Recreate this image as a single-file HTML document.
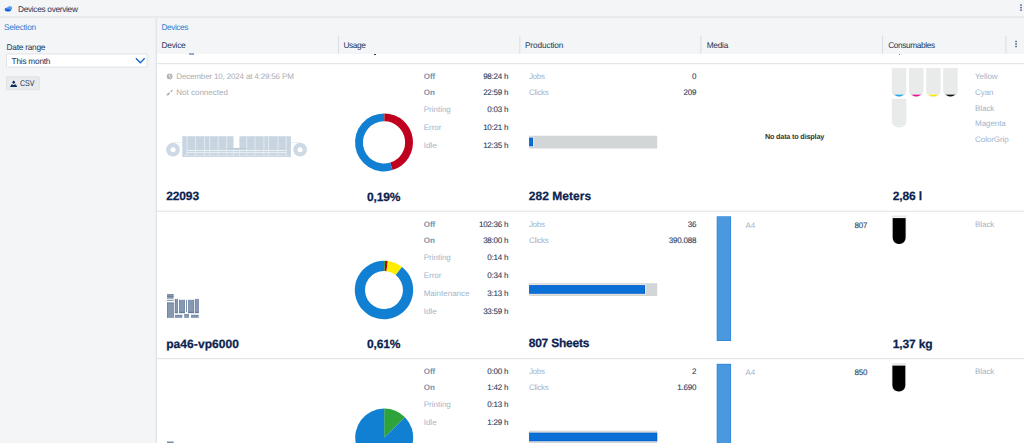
<!DOCTYPE html>
<html>
<head>
<meta charset="utf-8">
<title>Devices overview</title>
<style>
*{box-sizing:border-box;margin:0;padding:0}
html,body{width:1024px;height:443px;overflow:hidden;background:#f4f5f7}
body{position:relative;text-rendering:geometricPrecision;font-family:"Liberation Sans",sans-serif;font-size:8.3px;letter-spacing:-0.24px;color:#1c3557}
.a{position:absolute}
.t{position:absolute;white-space:nowrap;line-height:10px;height:10px}
.r{text-align:right}
.s{font-size:8px;line-height:9px;height:9px;letter-spacing:0}
.uv,.val{letter-spacing:-0.22px}
.nd{font-size:7.3px;line-height:9px;height:9px;letter-spacing:-0.2px;color:#333}
.b{font-weight:bold}
.blue{color:#2b7dd1}
.lbl{color:#a2b4cb}
.lblb{color:#7790aa;font-weight:bold}
.val{color:#1f3f63;-webkit-text-stroke:0.1px #1f3f63}
.big{letter-spacing:-0.12px;font-size:12px;font-weight:bold;color:#0b2350;line-height:14px;height:14px;-webkit-text-stroke:0.25px #0b2350}
#topbar{left:0;top:0;width:1024px;height:18px;background:#f4f5f7;border-bottom:2px solid #e8eaec}
#side{left:0;top:18px;width:156px;height:426px;background:#f4f5f7}
#sideb{left:156px;top:18px;width:1px;height:425px;background:#e3e5e8;box-shadow:-1px 0 0 #eceef0}
#main{left:157px;top:18px;width:867px;height:426px;background:#f4f5f7}
#white{left:157px;top:54px;width:867px;height:389px;background:#fff}
.sep{position:absolute;width:1px;top:36px;height:18px;background:#dfe1e5}
.row{position:absolute;left:157px;width:867px;height:148px;border-top:1px solid #e9ebec}
.rb{left:157px;width:867px;height:1px;background:#e9ebec}
.gr{color:#a9acb0}
.lbl2{color:#a9b4c2}
</style>
</head>
<body>
<div class="a" id="topbar"></div>
<div class="a" id="side"></div>
<div class="a" id="main"></div>
<div class="a" id="white"></div>
<div class="a" id="sideb"></div>

<!-- top bar -->
<svg class="a" style="left:4px;top:5px" width="9" height="8" viewBox="0 0 9 8"><ellipse cx="4.0" cy="4.4" rx="3.3" ry="2.0" fill="#2372e2"/><ellipse cx="5.7" cy="2.9" rx="2.5" ry="1.7" fill="#3c86e8"/><path d="M3.2 2.6Q5.2 1.2 7.2 2.4M2.6 3.6Q4.9 2.3 7.4 3.6" stroke="#a9c8f4" stroke-width="0.45" fill="none"/><ellipse cx="3.9" cy="5.3" rx="1.25" ry="0.6" fill="#0a3ccc"/></svg>
<div class="t" id="t_title" style="left:18px;top:4px;letter-spacing:-0.31px">Devices overview</div>
<svg class="a" style="left:1019px;top:4px" width="4" height="8" viewBox="0 0 4 8"><rect x="1.2" y="0.4" width="1.5" height="1.5" fill="#3d5c8c"/><rect x="1.2" y="2.9" width="1.5" height="1.5" fill="#3d5c8c"/><rect x="1.2" y="5.4" width="1.5" height="1.5" fill="#3d5c8c"/></svg>

<!-- sidebar -->
<div class="t blue" id="t_sel" style="left:4px;top:22px">Selection</div>
<div class="t" id="t_dr" style="left:6.5px;top:42px">Date range</div>
<svg class="a" style="left:0;top:50px" width="157" height="45" viewBox="0 50 157 45">
<rect x="6.5" y="54.0" width="140.7" height="13.1" rx="0.8" fill="#fff" stroke="#dde0e4" stroke-width="0.9"/>
<path d="M135.9 58.3L140.3 62.7L144.7 58.3" fill="none" stroke="#1767c7" stroke-width="1.35"/>
<rect x="6.5" y="76.8" width="33" height="12.9" rx="0.8" fill="#e8eaec" stroke="#dddfe2" stroke-width="0.8"/>
<path d="M13.7 80.5L15.4 82.3L13.7 84.1L12 82.3Z" fill="#0e2a5c"/>
<path d="M11.4 84.5H12.9L13.7 85.3L14.5 84.5H16L17.2 86.9H10.1Z" fill="#0e2a5c"/>
</svg>
<div class="t" id="t_tm" style="left:11.6px;top:56px">This month</div>
<div class="t" id="t_csv" style="left:20.4px;top:78px;transform:scaleX(0.85);transform-origin:0 0;letter-spacing:0">CSV</div>

<!-- main header -->
<div class="t blue" id="t_devs" style="left:161.4px;top:22px;letter-spacing:-0.42px">Devices</div>
<div class="t" id="t_h1" style="left:161.5px;top:40px">Device</div>
<div class="t" id="t_h2" style="left:343.4px;top:40px;letter-spacing:-0.4px">Usage</div>
<div class="t" id="t_h3" style="left:524.9px;top:40px;letter-spacing:-0.13px">Production</div>
<div class="t" id="t_h4" style="left:706.7px;top:40px">Media</div>
<div class="t" id="t_h5" style="left:888.2px;top:40px;letter-spacing:-0.38px">Consumables</div>
<svg class="a" style="left:1014px;top:40px" width="4" height="8" viewBox="0 0 4 8"><rect x="1.3" y="0.8" width="1.5" height="1.5" fill="#3d5c8c"/><rect x="1.3" y="3.3" width="1.5" height="1.5" fill="#3d5c8c"/><rect x="1.3" y="5.8" width="1.5" height="1.5" fill="#3d5c8c"/></svg>

<!-- remnants of previous row -->
<div class="a" style="left:189px;top:53.4px;width:5px;height:1.6px;background:#94abc9"></div>
<div class="a" style="left:373.8px;top:53.5px;width:1.8px;height:1.6px;background:#0b2350;border-radius:1px"></div>
<div class="a" style="left:898.5px;top:53.5px;width:1.8px;height:1.6px;background:#2b5ea0;border-radius:1px"></div>

<svg class="a" style="left:0;top:0" width="1024" height="443" viewBox="0 0 1024 443">
<rect x="337.90" y="35.90" width="1.00" height="17.70" fill="#dadde1"/>
<rect x="519.30" y="35.90" width="1.00" height="17.70" fill="#dadde1"/>
<rect x="700.40" y="35.90" width="1.00" height="17.70" fill="#dadde1"/>
<rect x="882.10" y="35.90" width="1.00" height="17.70" fill="#dadde1"/>
<rect x="1005.40" y="35.90" width="1.00" height="17.70" fill="#dadde1"/>
<rect x="157.00" y="63.20" width="867.00" height="1.00" fill="#dee1e4"/>
<circle cx="169.6" cy="76.45" r="2.85" fill="#b1b4b8"/><path d="M169.6 74.60V76.60L170.9 77.60" stroke="#fff" stroke-width="0.9" fill="none"/>
<g transform="translate(166 89.00)"><path d="M0.3 6.7L1.3 4.5L3.2 3.2L4.1 4.1L2.9 6.0Z" fill="#adb0b4"/><path d="M4.0 1.9L6.8 0.4L5.9 3.6Z" fill="#adb0b4"/></g>
<g transform="translate(166.00 136.10)"><circle cx="7" cy="13.6" r="6.9" fill="#cdd9e4"/><circle cx="7.1" cy="13.6" r="2.5" fill="#fff"/><circle cx="134.1" cy="13.6" r="6.9" fill="#cdd9e4"/><circle cx="134.1" cy="13.6" r="2.5" fill="#fff"/><rect x="7" y="6.4" width="9.5" height="0.6" fill="#dde5ec"/><rect x="125" y="6.4" width="9" height="0.6" fill="#dde5ec"/><path d="M16.3 0.2H67.5V12H73.4V0.2H124.9V20.9H16.3Z" fill="#c8d5e1"/><rect x="20.5" y="0.6" width="1" height="11.6" fill="#e3eaf1"/><rect x="29.1" y="0.6" width="1" height="11.6" fill="#e3eaf1"/><rect x="38.0" y="0.6" width="1" height="11.6" fill="#e3eaf1"/><rect x="43.2" y="0.6" width="1" height="11.6" fill="#e3eaf1"/><rect x="51.7" y="0.6" width="1" height="11.6" fill="#e3eaf1"/><rect x="60.3" y="0.6" width="1" height="11.6" fill="#e3eaf1"/><rect x="80.3" y="0.6" width="1" height="11.6" fill="#e3eaf1"/><rect x="88.5" y="0.6" width="1" height="11.6" fill="#e3eaf1"/><rect x="97.4" y="0.6" width="1" height="11.6" fill="#e3eaf1"/><rect x="101.9" y="0.6" width="1" height="11.6" fill="#e3eaf1"/><rect x="111.5" y="0.6" width="1" height="11.6" fill="#e3eaf1"/><rect x="119.7" y="0.6" width="1" height="11.6" fill="#e3eaf1"/><rect x="21" y="13.9" width="99.7" height="0.8" fill="#f4f7fa"/><rect x="21" y="16.2" width="99.7" height="0.8" fill="#f4f7fa"/><rect x="18" y="19.3" width="105" height="0.7" fill="#e3eaf1"/><rect x="20.6" y="12.4" width="0.8" height="7.6" fill="#e6ecf2"/><rect x="29.200000000000003" y="12.4" width="0.8" height="7.6" fill="#e6ecf2"/><rect x="38.1" y="12.4" width="0.8" height="7.6" fill="#e6ecf2"/><rect x="43.300000000000004" y="12.4" width="0.8" height="7.6" fill="#e6ecf2"/><rect x="51.800000000000004" y="12.4" width="0.8" height="7.6" fill="#e6ecf2"/><rect x="60.4" y="12.4" width="0.8" height="7.6" fill="#e6ecf2"/><rect x="67.1" y="12.4" width="0.8" height="7.6" fill="#e6ecf2"/><rect x="73.0" y="12.4" width="0.8" height="7.6" fill="#e6ecf2"/><rect x="80.39999999999999" y="12.4" width="0.8" height="7.6" fill="#e6ecf2"/><rect x="88.6" y="12.4" width="0.8" height="7.6" fill="#e6ecf2"/><rect x="97.5" y="12.4" width="0.8" height="7.6" fill="#e6ecf2"/><rect x="102.0" y="12.4" width="0.8" height="7.6" fill="#e6ecf2"/><rect x="111.6" y="12.4" width="0.8" height="7.6" fill="#e6ecf2"/><rect x="119.8" y="12.4" width="0.8" height="7.6" fill="#e6ecf2"/><rect x="61.3" y="12" width="19" height="1.2" fill="#bccbda"/></g>
<path d="M384.00 113.40A29 29 0 0 1 384.40 113.40L384.29 121.30A21.1 21.1 0 0 0 384.00 121.30Z" fill="#2da33a"/><path d="M384.40 113.40A29 29 0 0 1 392.53 170.12L390.20 162.57A21.1 21.1 0 0 0 384.29 121.30Z" fill="#c0001f"/><path d="M392.53 170.12A29 29 0 1 1 384.00 113.40L384.00 121.30A21.1 21.1 0 1 0 390.20 162.57Z" fill="#1180d2"/>
<rect x="529.10" y="135.70" width="128.10" height="12.80" fill="#d3d6d7"/><rect x="528.75" y="136.90" width="4.95" height="10.10" fill="#f4eee6"/><rect x="529.10" y="137.60" width="3.90" height="8.70" fill="#0560cc"/><rect x="530.00" y="138.50" width="2.10" height="6.90" fill="#0a70d6"/>
<path d="M891.80 68.10h14.5v22.8a5.8 5.8 0 0 1 -5.8 5.8h-2.90a5.8 5.8 0 0 1 -5.8 -5.8Z" fill="#e9eaea"/><clipPath id="tc1"><path d="M892.60 68.10h12.9v22.3a6.2 6.2 0 0 1 -6.2 6.2h-0.50a6.2 6.2 0 0 1 -6.2 -6.2Z"/></clipPath><g clip-path="url(#tc1)"><rect x="890.80" y="94.00" width="16.50" height="0.60" fill="#fff"/><rect x="890.80" y="94.60" width="16.50" height="3.10" fill="#1ea8ee"/></g>
<path d="M909.00 68.10h14.5v22.8a5.8 5.8 0 0 1 -5.8 5.8h-2.90a5.8 5.8 0 0 1 -5.8 -5.8Z" fill="#e9eaea"/><clipPath id="tc2"><path d="M909.80 68.10h12.9v22.3a6.2 6.2 0 0 1 -6.2 6.2h-0.50a6.2 6.2 0 0 1 -6.2 -6.2Z"/></clipPath><g clip-path="url(#tc2)"><rect x="908.00" y="94.00" width="16.50" height="0.60" fill="#fff"/><rect x="908.00" y="94.60" width="16.50" height="3.10" fill="#e6149a"/></g>
<path d="M926.10 68.10h14.5v22.8a5.8 5.8 0 0 1 -5.8 5.8h-2.90a5.8 5.8 0 0 1 -5.8 -5.8Z" fill="#e9eaea"/><clipPath id="tc3"><path d="M926.90 68.10h12.9v22.3a6.2 6.2 0 0 1 -6.2 6.2h-0.50a6.2 6.2 0 0 1 -6.2 -6.2Z"/></clipPath><g clip-path="url(#tc3)"><rect x="925.10" y="94.00" width="16.50" height="0.60" fill="#fff"/><rect x="925.10" y="94.60" width="16.50" height="3.10" fill="#ffe600"/></g>
<path d="M943.20 68.10h14.5v22.8a5.8 5.8 0 0 1 -5.8 5.8h-2.90a5.8 5.8 0 0 1 -5.8 -5.8Z" fill="#e9eaea"/><clipPath id="tc4"><path d="M944.00 68.10h12.9v22.3a6.2 6.2 0 0 1 -6.2 6.2h-0.50a6.2 6.2 0 0 1 -6.2 -6.2Z"/></clipPath><g clip-path="url(#tc4)"><rect x="942.20" y="94.00" width="16.50" height="0.60" fill="#fff"/><rect x="942.20" y="94.60" width="16.50" height="3.10" fill="#111"/></g>
<path d="M891.80 98.70h14.5v22.8a5.8 5.8 0 0 1 -5.8 5.8h-2.90a5.8 5.8 0 0 1 -5.8 -5.8Z" fill="#e9eaea"/><clipPath id="tc5"><path d="M892.60 98.70h12.9v22.3a6.2 6.2 0 0 1 -6.2 6.2h-0.50a6.2 6.2 0 0 1 -6.2 -6.2Z"/></clipPath><g clip-path="url(#tc5)"><rect x="890.80" y="125.80" width="16.50" height="0.60" fill="#fff"/><rect x="890.80" y="126.40" width="16.50" height="1.90" fill="#cfe7f9"/></g>
<rect x="157.00" y="210.70" width="867.00" height="1.00" fill="#dee1e4"/>
<g transform="translate(167.00 293.90)"><rect x="0" y="0.3" width="6.6" height="4.5" fill="#8798b3"/><rect x="0" y="2.0" width="6.6" height="0.8" fill="#647a9d"/><rect x="0" y="0.3" width="6.6" height="0.6" fill="#647a9d"/><rect x="0" y="5.9" width="6.6" height="0.9" fill="#647a9d"/><rect x="0" y="8.7" width="6.6" height="15.3" fill="#8798b3"/><rect x="0" y="8.7" width="6.6" height="0.8" fill="#647a9d"/><rect x="0" y="8.7" width="0.6" height="15.3" fill="#647a9d"/><rect x="6" y="8.7" width="0.6" height="15.3" fill="#647a9d"/><rect x="7.9" y="5" width="2.9" height="14.2" fill="#8798b3"/><rect x="12.2" y="5.9" width="5.6" height="13.3" fill="#8798b3"/><rect x="19.2" y="5.9" width="0.8" height="12.2" fill="#647a9d"/><rect x="21.4" y="5.9" width="5.7" height="13.3" fill="#8798b3"/><rect x="28.2" y="5" width="3.4" height="14.2" fill="#8798b3"/><rect x="7.9" y="21" width="7.4" height="3" fill="#8798b3"/><rect x="17.2" y="20.4" width="4.8" height="3.6" fill="#8798b3"/><rect x="24" y="21" width="7.6" height="3" fill="#8798b3"/><rect x="7.9" y="17.8" width="2.9" height="1.4" fill="#647a9d"/><rect x="12.2" y="17.8" width="5.6" height="1.4" fill="#647a9d"/><rect x="21.4" y="17.8" width="5.7" height="1.4" fill="#647a9d"/><rect x="28.2" y="17.8" width="3.4" height="1.4" fill="#647a9d"/><rect x="7.9" y="5" width="0.6" height="14.2" fill="#647a9d"/><rect x="10.2" y="5" width="0.6" height="14.2" fill="#647a9d"/><rect x="12.2" y="5.9" width="0.6" height="13.3" fill="#647a9d"/><rect x="17.2" y="5.9" width="0.6" height="13.3" fill="#647a9d"/><rect x="21.4" y="5.9" width="0.6" height="13.3" fill="#647a9d"/><rect x="26.5" y="5.9" width="0.6" height="13.3" fill="#647a9d"/><rect x="28.2" y="5" width="0.6" height="14.2" fill="#647a9d"/><rect x="31" y="5" width="0.6" height="14.2" fill="#647a9d"/><rect x="7.9" y="21" width="7.4" height="0.6" fill="#647a9d"/><rect x="24" y="21" width="7.6" height="0.6" fill="#647a9d"/><rect x="17.2" y="20.4" width="4.8" height="0.6" fill="#647a9d"/></g>
<path d="M384.00 260.80A29.2 29.2 0 0 1 385.13 260.82L384.73 271.01A19 19 0 0 0 384.00 271.00Z" fill="#2da33a"/><path d="M385.13 260.82A29.2 29.2 0 0 1 387.85 261.06L386.51 271.17A19 19 0 0 0 384.73 271.01Z" fill="#c0001f"/><path d="M387.85 261.06A29.2 29.2 0 0 1 402.00 267.01L395.71 275.04A19 19 0 0 0 386.51 271.17Z" fill="#ffee00"/><path d="M402.00 267.01A29.2 29.2 0 1 1 384.00 260.80L384.00 271.00A19 19 0 1 0 395.71 275.04Z" fill="#1180d2"/>
<rect x="529.10" y="283.20" width="128.10" height="12.80" fill="#d3d6d7"/><rect x="528.75" y="284.40" width="116.95" height="10.10" fill="#f4eee6"/><rect x="529.10" y="285.10" width="115.90" height="8.70" fill="#0560cc"/><rect x="530.00" y="286.00" width="114.10" height="6.90" fill="#0a70d6"/>
<rect x="716.70" y="216.30" width="14.35" height="124.70" fill="#2f84d8"/><rect x="717.40" y="217.00" width="12.95" height="123.30" fill="#4a98de"/>
<path d="M891.90 215.50h14.5v22.8a5.8 5.8 0 0 1 -5.8 5.8h-2.90a5.8 5.8 0 0 1 -5.8 -5.8Z" fill="#e9eaea"/><clipPath id="tc6"><path d="M892.70 215.50h12.9v22.3a6.2 6.2 0 0 1 -6.2 6.2h-0.50a6.2 6.2 0 0 1 -6.2 -6.2Z"/></clipPath><g clip-path="url(#tc6)"><rect x="890.90" y="217.50" width="16.50" height="0.60" fill="#fff"/><rect x="890.90" y="218.10" width="16.50" height="27.00" fill="#000"/></g>
<rect x="157.00" y="358.20" width="867.00" height="1.00" fill="#dee1e4"/>
<g transform="translate(167.00 441.40)"><rect x="0" y="0.3" width="6.6" height="4.5" fill="#8798b3"/><rect x="0" y="2.0" width="6.6" height="0.8" fill="#647a9d"/><rect x="0" y="0.3" width="6.6" height="0.6" fill="#647a9d"/><rect x="0" y="5.9" width="6.6" height="0.9" fill="#647a9d"/><rect x="0" y="8.7" width="6.6" height="15.3" fill="#8798b3"/><rect x="0" y="8.7" width="6.6" height="0.8" fill="#647a9d"/><rect x="0" y="8.7" width="0.6" height="15.3" fill="#647a9d"/><rect x="6" y="8.7" width="0.6" height="15.3" fill="#647a9d"/><rect x="7.9" y="5" width="2.9" height="14.2" fill="#8798b3"/><rect x="12.2" y="5.9" width="5.6" height="13.3" fill="#8798b3"/><rect x="19.2" y="5.9" width="0.8" height="12.2" fill="#647a9d"/><rect x="21.4" y="5.9" width="5.7" height="13.3" fill="#8798b3"/><rect x="28.2" y="5" width="3.4" height="14.2" fill="#8798b3"/><rect x="7.9" y="21" width="7.4" height="3" fill="#8798b3"/><rect x="17.2" y="20.4" width="4.8" height="3.6" fill="#8798b3"/><rect x="24" y="21" width="7.6" height="3" fill="#8798b3"/><rect x="7.9" y="17.8" width="2.9" height="1.4" fill="#647a9d"/><rect x="12.2" y="17.8" width="5.6" height="1.4" fill="#647a9d"/><rect x="21.4" y="17.8" width="5.7" height="1.4" fill="#647a9d"/><rect x="28.2" y="17.8" width="3.4" height="1.4" fill="#647a9d"/><rect x="7.9" y="5" width="0.6" height="14.2" fill="#647a9d"/><rect x="10.2" y="5" width="0.6" height="14.2" fill="#647a9d"/><rect x="12.2" y="5.9" width="0.6" height="13.3" fill="#647a9d"/><rect x="17.2" y="5.9" width="0.6" height="13.3" fill="#647a9d"/><rect x="21.4" y="5.9" width="0.6" height="13.3" fill="#647a9d"/><rect x="26.5" y="5.9" width="0.6" height="13.3" fill="#647a9d"/><rect x="28.2" y="5" width="0.6" height="14.2" fill="#647a9d"/><rect x="31" y="5" width="0.6" height="14.2" fill="#647a9d"/><rect x="7.9" y="21" width="7.4" height="0.6" fill="#647a9d"/><rect x="24" y="21" width="7.6" height="0.6" fill="#647a9d"/><rect x="17.2" y="20.4" width="4.8" height="0.6" fill="#647a9d"/></g>
<path d="M384.20 437.50L384.20 408.50A29 29 0 0 1 405.02 417.31Z" fill="#2da33a"/><path d="M384.20 437.50L405.02 417.31A29 29 0 1 1 384.20 408.50Z" fill="#1180d2"/>
<rect x="529.10" y="430.70" width="128.10" height="12.80" fill="#d3d6d7"/><rect x="528.75" y="431.90" width="129.15" height="10.10" fill="#f4eee6"/><rect x="529.10" y="432.60" width="128.10" height="8.70" fill="#0560cc"/><rect x="530.00" y="433.50" width="126.30" height="6.90" fill="#0a70d6"/>
<rect x="716.70" y="363.80" width="14.35" height="124.70" fill="#2f84d8"/><rect x="717.40" y="364.50" width="12.95" height="123.30" fill="#4a98de"/>
<path d="M891.60 363.00h14.5v22.8a5.8 5.8 0 0 1 -5.8 5.8h-2.90a5.8 5.8 0 0 1 -5.8 -5.8Z" fill="#e9eaea"/><clipPath id="tc7"><path d="M892.40 363.00h12.9v22.3a6.2 6.2 0 0 1 -6.2 6.2h-0.50a6.2 6.2 0 0 1 -6.2 -6.2Z"/></clipPath><g clip-path="url(#tc7)"><rect x="890.60" y="365.00" width="16.50" height="0.60" fill="#fff"/><rect x="890.60" y="365.60" width="16.50" height="27.00" fill="#000"/></g>
</svg>
<div class="t s gr" style="left:176.3px;top:72px;letter-spacing:-0.16px">December 10, 2024 at 4:29:56 PM</div>
<div class="t s gr" style="left:176.3px;top:88px">Not connected</div>
<div class="t big" style="left:166.2px;top:189px">22093</div>
<div class="t big" style="left:343.7px;top:190px;width:80px;text-align:center">0,19%</div>
<div class="t s lblb" style="left:423.7px;top:72px">Off</div>
<div class="t s r val uv" style="left:448.3px;width:60px;top:72px">98:24 h</div>
<div class="t s lblb" style="left:423.7px;top:88px">On</div>
<div class="t s r val uv" style="left:448.3px;width:60px;top:88px">22:59 h</div>
<div class="t s lbl" style="left:423.7px;top:105px">Printing</div>
<div class="t s r val uv" style="left:448.3px;width:60px;top:105px">0:03 h</div>
<div class="t s lbl" style="left:423.7px;top:123px">Error</div>
<div class="t s r val uv" style="left:448.3px;width:60px;top:123px">10:21 h</div>
<div class="t s lbl" style="left:423.7px;top:141px">Idle</div>
<div class="t s r val uv" style="left:448.3px;width:60px;top:141px">12:35 h</div>
<div class="t s lbl" style="left:528.9px;top:72px;letter-spacing:-0.3px">Jobs</div>
<div class="t s r val" style="left:636.2px;width:60px;top:72px">0</div>
<div class="t s lbl" style="left:528.9px;top:88px;letter-spacing:-0.28px">Clicks</div>
<div class="t s r val" style="left:636.2px;width:60px;top:88px">209</div>
<div class="t big" style="left:528.7px;top:189px;letter-spacing:0.05px">282 Meters</div>
<div class="t b nd" style="left:744.5px;width:100px;text-align:center;top:132px">No data to display</div>
<div class="t s lbl" style="left:975.1px;top:72px;letter-spacing:-0.08px">Yellow</div>
<div class="t s lbl" style="left:975.1px;top:88px;letter-spacing:-0.08px">Cyan</div>
<div class="t s lbl" style="left:975.1px;top:104px;letter-spacing:-0.08px">Black</div>
<div class="t s lbl" style="left:975.1px;top:119px;letter-spacing:-0.08px">Magenta</div>
<div class="t s lbl" style="left:975.1px;top:135px;letter-spacing:-0.08px">ColorGrip</div>
<div class="t big" style="left:892.7px;top:189px">2,86 l</div>
<div class="t big" style="left:166.2px;top:337px;letter-spacing:0.07px">pa46-vp6000</div>
<div class="t big" style="left:343.7px;top:337px;width:80px;text-align:center">0,61%</div>
<div class="t s lblb" style="left:423.7px;top:220px">Off</div>
<div class="t s r val uv" style="left:448.3px;width:60px;top:220px">102:36 h</div>
<div class="t s lblb" style="left:423.7px;top:236px">On</div>
<div class="t s r val uv" style="left:448.3px;width:60px;top:236px">38:00 h</div>
<div class="t s lbl" style="left:423.7px;top:253px">Printing</div>
<div class="t s r val uv" style="left:448.3px;width:60px;top:253px">0:14 h</div>
<div class="t s lbl" style="left:423.7px;top:271px">Error</div>
<div class="t s r val uv" style="left:448.3px;width:60px;top:271px">0:34 h</div>
<div class="t s lbl" style="left:423.7px;top:289px">Maintenance</div>
<div class="t s r val uv" style="left:448.3px;width:60px;top:289px">3:13 h</div>
<div class="t s lbl" style="left:423.7px;top:307px">Idle</div>
<div class="t s r val uv" style="left:448.3px;width:60px;top:307px">33:59 h</div>
<div class="t s lbl" style="left:528.9px;top:220px;letter-spacing:-0.3px">Jobs</div>
<div class="t s r val" style="left:636.2px;width:60px;top:220px">36</div>
<div class="t s lbl" style="left:528.9px;top:236px;letter-spacing:-0.28px">Clicks</div>
<div class="t s r val" style="left:636.2px;width:60px;top:236px">390.088</div>
<div class="t big" style="left:528.7px;top:336px;letter-spacing:-0.22px">807 Sheets</div>
<div class="t s lbl2" style="left:745.5px;top:221px">A4</div>
<div class="t s r val" style="left:807.3px;width:60px;top:221px">807</div>
<div class="t s lbl" style="left:975.1px;top:220px;letter-spacing:-0.08px">Black</div>
<div class="t big" style="left:892.7px;top:337px">1,37 kg</div>
<div class="t s lblb" style="left:423.7px;top:367px">Off</div>
<div class="t s r val uv" style="left:448.3px;width:60px;top:367px">0:00 h</div>
<div class="t s lblb" style="left:423.7px;top:383px">On</div>
<div class="t s r val uv" style="left:448.3px;width:60px;top:383px">1:42 h</div>
<div class="t s lbl" style="left:423.7px;top:400px">Printing</div>
<div class="t s r val uv" style="left:448.3px;width:60px;top:400px">0:13 h</div>
<div class="t s lbl" style="left:423.7px;top:418px">Idle</div>
<div class="t s r val uv" style="left:448.3px;width:60px;top:418px">1:29 h</div>
<div class="t s lbl" style="left:528.9px;top:367px;letter-spacing:-0.3px">Jobs</div>
<div class="t s r val" style="left:636.2px;width:60px;top:367px">2</div>
<div class="t s lbl" style="left:528.9px;top:383px;letter-spacing:-0.28px">Clicks</div>
<div class="t s r val" style="left:636.2px;width:60px;top:383px">1.690</div>
<div class="t s lbl2" style="left:745.5px;top:368px">A4</div>
<div class="t s r val" style="left:807.3px;width:60px;top:368px">850</div>
<div class="t s lbl" style="left:975.1px;top:367px;letter-spacing:-0.08px">Black</div>
</body>
</html>
